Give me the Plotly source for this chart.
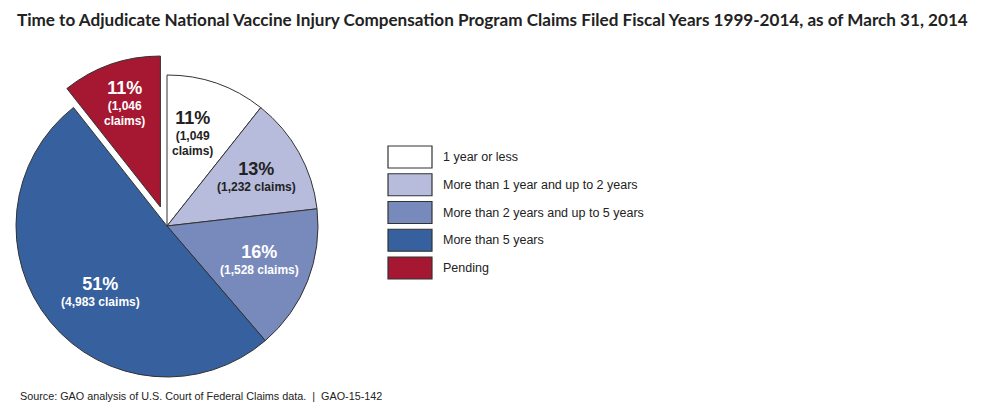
import math
import plotly.graph_objects as go

# the page body has an 8px margin, so the figure is placed 8px in and sized to fit
OFF = 8
W, H = 982 - 2 * OFF, 413 - 2 * OFF

# data
categories = ["1 year or less", "More than 1 year and up to 2 years",
              "More than 2 years and up to 5 years", "More than 5 years", "Pending"]
claims = [1049, 1232, 1528, 4983, 1046]
pct_labels = ["11%", "13%", "16%", "51%", "11%"]
claim_labels = ["(1,049<br>claims)", "(1,232 claims)", "(1,528 claims)",
                "(4,983 claims)", "(1,046<br>claims)"]

# style
colors = ["#FFFFFF", "#B7BCDC", "#7889BC", "#36609E", "#A61832"]
text_colors = ["#222222", "#222222", "#FFFFFF", "#FFFFFF", "#FFFFFF"]
pull = [0, 0, 0, 0, 0.133]
label_r = [0.64, 0.675, 0.65, 0.62, 0.73]
label_turn = [-4, 0, -1.5, -5, 0]  # degrees off the slice bisector

# pie placement in page pixels
cx, cy, r = 167, 226, 151


def px(x):
    return (x - OFF) / W


def py(y):
    return 1 - (y - OFF) / H


total = sum(claims)
mids = []
cum = 0
for v in claims:
    mids.append((cum + v / 2) / total * 2 * math.pi)
    cum += v

fig = go.Figure()

# slices that sit in place go in one trace, pulled-out slices each get their own
# trace whose domain is shifted along the slice bisector
groups = [[i for i, p in enumerate(pull) if p == 0]] + [[i] for i, p in enumerate(pull) if p > 0]
for grp in groups:
    p = pull[grp[0]]
    a = mids[grp[0]]
    ox = cx + p * r * math.sin(a)
    oy = cy - p * r * math.cos(a)
    fig.add_trace(go.Pie(
        labels=categories,
        values=claims,
        sort=False,
        direction="clockwise",
        rotation=0,
        marker=dict(
            colors=[colors[i] if i in grp else "rgba(0,0,0,0)" for i in range(len(claims))],
            line=dict(color="#333333",
                      width=[1 if i in grp else 0 for i in range(len(claims))]),
        ),
        textinfo="none",
        hoverinfo="label+value+percent",
        showlegend=False,
        domain=dict(x=[px(ox - r), px(ox + r)], y=[py(oy + r), py(oy - r)]),
    ))

for i in range(len(claims)):
    a = mids[i]
    ox = cx + pull[i] * r * math.sin(a)
    oy = cy - pull[i] * r * math.cos(a)
    t = a + math.radians(label_turn[i])
    lx = ox + label_r[i] * r * math.sin(t)
    ly = oy - label_r[i] * r * math.cos(t)
    fig.add_annotation(
        x=px(lx), y=py(ly), xref="paper", yref="paper",
        xanchor="center", yanchor="middle",
        text=f"<b><span style='font-size:18px'>{pct_labels[i]}</span><br>{claim_labels[i]}</b>",
        showarrow=False, align="center",
        font=dict(family="Arial, Liberation Sans", size=12, color=text_colors[i]),
    )

# legend drawn as boxes with labels
leg_x0, leg_y0, box_wd, box_ht, step = 388, 146, 44, 22, 27.75
for i, name in enumerate(categories):
    y0 = leg_y0 + i * step
    fig.add_shape(type="rect", xref="paper", yref="paper",
                  x0=px(leg_x0), x1=px(leg_x0 + box_wd),
                  y0=py(y0), y1=py(y0 + box_ht),
                  fillcolor=colors[i], line=dict(color="#333333", width=1.2))
    fig.add_annotation(x=px(leg_x0 + box_wd + 9), y=py(y0 + box_ht / 2),
                       xref="paper", yref="paper", xanchor="left", yanchor="middle",
                       text=name, showarrow=False,
                       font=dict(family="Arial, Liberation Sans", size=12.5, color="#222222"))

fig.add_annotation(x=px(15), y=py(20), xref="paper", yref="paper",
                   xanchor="left", yanchor="middle", showarrow=False,
                   text="<b>Time to Adjudicate National Vaccine Injury Compensation Program Claims "
                        "Filed Fiscal Years 1999-2014, as of March 31, 2014</b>",
                   font=dict(family="Lato", size=17.1, color="#222222"))
fig.add_annotation(x=px(18), y=py(396), xref="paper", yref="paper",
                   xanchor="left", yanchor="middle", showarrow=False,
                   text="Source: GAO analysis of U.S. Court of Federal Claims data.  |  GAO-15-142",
                   font=dict(family="Arial, Liberation Sans", size=10.8, color="#222222"))

fig.update_layout(
    width=W, height=H,
    margin=dict(l=0, r=0, t=0, b=0),
    paper_bgcolor="white",
    plot_bgcolor="white",
)

fig.write_html("out.html")
